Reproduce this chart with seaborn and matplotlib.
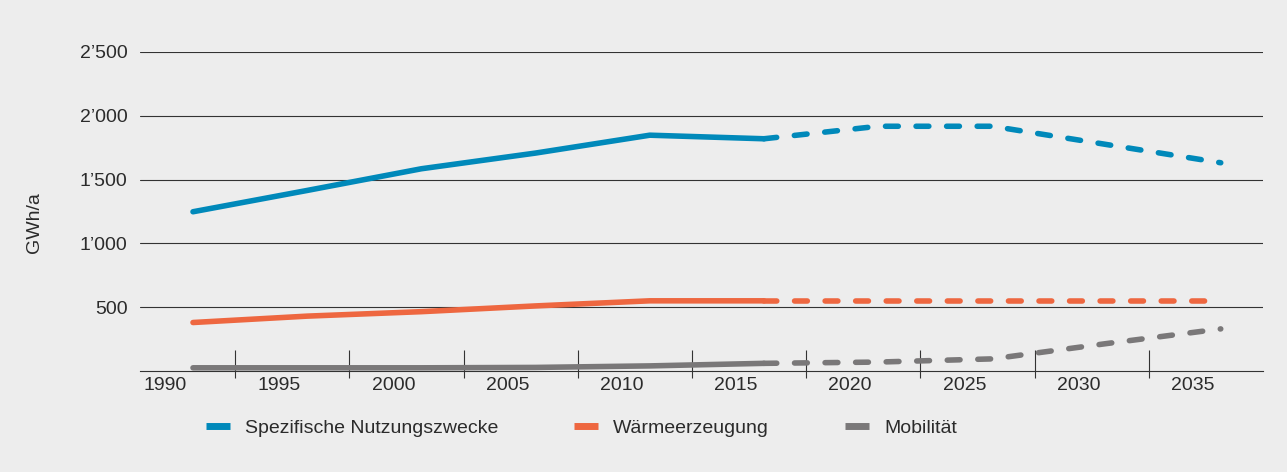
import numpy as np
import pandas as pd
import matplotlib.pyplot as plt
import seaborn as sns
from matplotlib.lines import Line2D

# Values (GWh/a)
years = [1990, 1995, 2000, 2005, 2010, 2015, 2020, 2025, 2030, 2035]
spezifisch = [1248, 1415, 1585, 1708, 1848, 1820, 1918, 1918, 1775, 1632]
waerme = [380, 430, 465, 510, 550, 550, 550, 550, 550, 550]
mobilitaet = [25, 25, 25, 28, 40, 60, 70, 95, 215, 330]
last_actual = 2015

categories = ['Spezifische Nutzungszwecke', 'Wärmeerzeugung', 'Mobilität']
colors = ['#0089BA', '#EE6740', '#7A7879']
ytick_values = [500, 1000, 1500, 2000, 2500]
ytick_labels = ['500', '1’000', '1’500', '2’000', '2’500']

bg = '#EDEDED'
text_color = '#2B2B2B'

# Long table: actual values solid, projection dashed
rows = []
for cat, vals in zip(categories, [spezifisch, waerme, mobilitaet]):
    for yr, v in zip(years, vals):
        if yr <= last_actual:
            rows.append((cat, yr, v, 'Ist'))
        if yr >= last_actual:
            rows.append((cat, yr, v, 'Prognose'))
df = pd.DataFrame(rows, columns=['Kategorie', 'Jahr', 'Wert', 'Typ'])

sns.set_theme(style='white')
plt.rcParams['font.family'] = ['Liberation Sans', 'DejaVu Sans']
plt.rcParams['lines.solid_capstyle'] = 'round'
plt.rcParams['lines.dash_capstyle'] = 'round'

fig = plt.figure(figsize=(12.87, 4.72), dpi=100, facecolor=bg)
ax = fig.add_axes([140 / 1287, 1 - 371 / 472, 1123 / 1287, 319 / 472])
ax.set_facecolor(bg)

sns.lineplot(data=df, x='Jahr', y='Wert', hue='Kategorie', style='Typ',
             hue_order=categories, palette=colors,
             dashes={'Ist': '', 'Prognose': (2.3, 3.2)},
             linewidth=4, errorbar=None, legend=False, ax=ax, zorder=3)

# axes ranges
ax.set_xlim(1987.68, 2036.85)
ax.set_ylim(0, 2500)

# y axis: horizontal rules
ax.set_yticks(ytick_values)
ax.set_yticklabels(ytick_labels)
ax.yaxis.grid(True, color='#333333', linewidth=0.8)
ax.tick_params(axis='y', length=0, pad=9, labelsize=14, labelcolor=text_color)
ax.set_ylabel('GWh/a', fontsize=14, color=text_color)
ax.yaxis.set_label_coords(-0.0865, 0.464)

# x axis: year labels sit left of the points, separators between them
ax.set_xticks([y - 1.23 for y in years])
ax.set_xticklabels([str(y) for y in years])
ax.tick_params(axis='x', length=0, pad=4, labelsize=14, labelcolor=text_color)
ax.set_xlabel('')
separators = [y + 1.85 for y in years[:-1]]
ax.vlines(separators, -55, 165, color='#333333', linewidth=0.8, clip_on=False, zorder=2)

for side in ['top', 'right', 'left']:
    ax.spines[side].set_visible(False)
ax.spines['bottom'].set_color('#333333')
ax.spines['bottom'].set_linewidth(0.8)

# legend below the plot
handles = [Line2D([0], [0], color=c, linewidth=5, solid_capstyle='butt') for c in colors]
leg = fig.legend(handles, categories, loc='center left',
                 bbox_to_anchor=(206 / 1287, 1 - 428 / 472), ncol=3,
                 frameon=False, fontsize=14, handlelength=1.24,
                 handletextpad=0.77, columnspacing=3.9, borderpad=0, borderaxespad=0)
for t in leg.get_texts():
    t.set_color(text_color)

fig.savefig('out.png', dpi=100, facecolor=bg)
